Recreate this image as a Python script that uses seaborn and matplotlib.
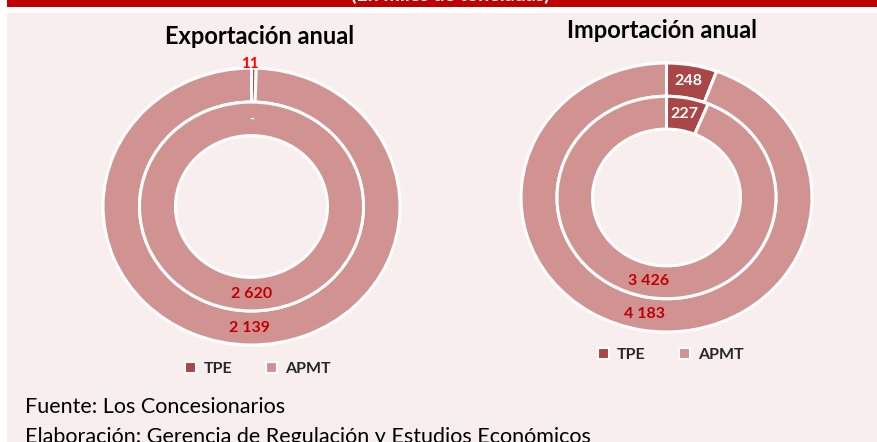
import matplotlib
matplotlib.use("Agg")
import matplotlib.pyplot as plt
import seaborn as sns
import numpy as np
from matplotlib.patches import Rectangle, Patch

# datos (miles)
series = ["TPE", "APMT"]
expo_exterior = [11, 2139]
expo_interior = [0, 2620]
impo_exterior = [248, 4183]
impo_interior = [227, 3426]

sns.set_theme(style="white")
plt.rcParams['font.family'] = ['Lato', 'DejaVu Sans']

col_tpe = "#A94646"
col_apmt = "#D19392"
colores = [col_tpe, col_apmt]
rojo = "#C00000"
fondo = "#F9EEEE"

W, H = 878, 442
fig = plt.figure(figsize=(W / 100, H / 100), dpi=100)
fig.patch.set_facecolor("white")


def fx(px):
    return px / W


def fy(py):
    return 1 - py / H


# banda roja y panel rosado
fig.patches.append(Rectangle((fx(7), fy(7)), 1 - fx(7), 7 / H, transform=fig.transFigure,
                             facecolor=rojo, edgecolor="none", zorder=-5))
fig.patches.append(Rectangle((fx(7), 0), 1 - fx(7), fy(13), transform=fig.transFigure,
                             facecolor=fondo, edgecolor="none", zorder=-5))
fig.text(fx(450), fy(1.2), "(En miles de toneladas)", color="white", fontsize=14,
         fontweight="bold", ha="center", va="baseline")


def fmt(v):
    return f"{v:,}".replace(",", " ")


def dona(cx, cy, rx, ry, r_hueco, r_medio, ext, inte, titulo, tx, ty, leg_y, leg_x):
    ax = fig.add_axes([fx(cx - rx), fy(cy + ry), 2 * rx / W, 2 * ry / H])
    w_ext = 1 - r_medio
    w_int = r_medio - r_hueco
    props = dict(edgecolor="white", linewidth=2.2)
    ax.pie(ext, radius=1, colors=colores, startangle=90, counterclock=False,
           wedgeprops=dict(width=w_ext, **props))
    ax.pie(inte, radius=r_medio, colors=colores, startangle=90, counterclock=False,
           wedgeprops=dict(width=w_int, **props))
    ax.set_aspect("auto")
    ax.set_xlim(-1, 1)
    ax.set_ylim(-1, 1)
    ax.axis("off")

    # etiquetas en el centro de cada porción
    for vals, rmid in [(ext, (1 + r_medio) / 2), (inte, (r_medio + r_hueco) / 2)]:
        tot = sum(vals)
        acum = 0
        for i, v in enumerate(vals):
            ang = np.deg2rad(90 - 360 * (acum + v / 2) / tot)
            acum += v
            x, y = rmid * np.cos(ang), rmid * np.sin(ang)
            if i == 0:
                if v == 0:
                    ax.text(x, y, "-", color="white", fontsize=10, fontweight="bold",
                            ha="center", va="center")
                elif v / tot < 0.02:
                    ax.text(x - 0.025, 0.975, fmt(v), color="#FF0000", fontsize=11,
                            fontweight="bold", ha="center", va="bottom")
                else:
                    ax.text(x, y, fmt(v), color="white", fontsize=11.5,
                            fontweight="bold", ha="center", va="center")
            else:
                ax.text(x, y, fmt(v), color=rojo, fontsize=11.5, fontweight="bold",
                        ha="center", va="center")

    fig.text(fx(tx), fy(ty), titulo, fontsize=17, fontweight="bold",
             color="black", ha="center", va="center")
    handles = [Patch(facecolor=c, edgecolor="white", linewidth=1.5) for c in colores]
    fig.legend(handles, series, loc="center", bbox_to_anchor=(fx(leg_x), fy(leg_y)),
               ncol=2, frameon=False, handlelength=0.7, handleheight=0.7,
               handletextpad=0.5, columnspacing=2.1,
               prop=dict(family="Lato", weight="bold", size=11.5))


dona(251.5, 206.5, 148.5, 138.5, 76 / 148.5, 112 / 148.5,
     expo_exterior, expo_interior, "Exportación anual", 260, 37, 369, 258)
dona(666.5, 197.5, 145.5, 134.5, 74 / 145.5, 109.5 / 145.5,
     impo_exterior, impo_interior, "Importación anual", 662, 31, 355, 671)

fig.text(fx(25), fy(407), "Fuente: Los Concesionarios", fontsize=15.5, color="black",
         ha="left", va="center")
fig.text(fx(25), fy(437), "Elaboración: Gerencia de Regulación y Estudios Económicos",
         fontsize=15.5, color="black", ha="left", va="center")

fig.savefig("out.png", dpi=100, facecolor=fig.get_facecolor())
